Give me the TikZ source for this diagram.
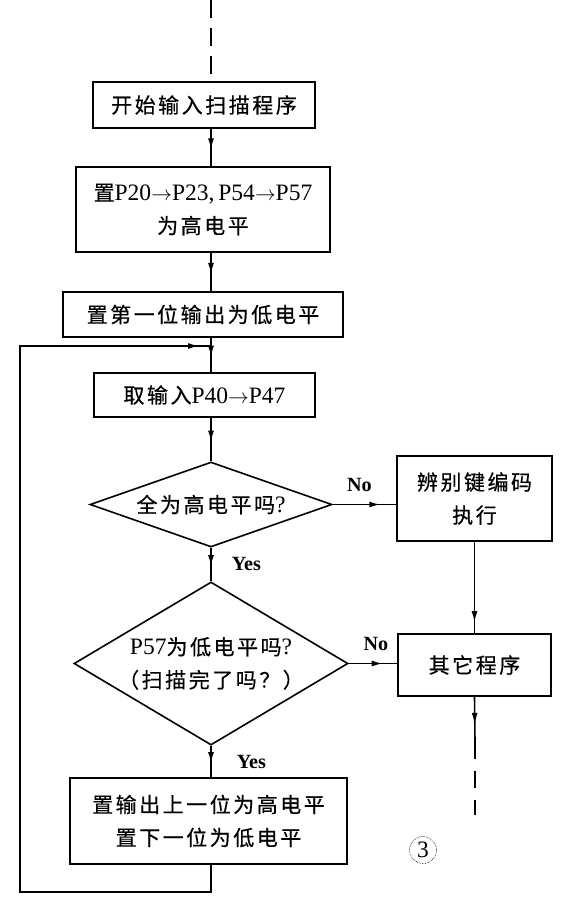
\documentclass[tikz,border=0pt]{standalone}
\usepackage{fontspec}
\setmainfont{Noto Sans CJK SC}[LetterSpace=12, FakeBold=0.5]
\newfontfamily\lat{Liberation Serif}[Scale=1.12]
\usetikzlibrary{shapes.geometric,arrows.meta,decorations.markings}
\newcommand\zhsize{\fontsize{21}{33}\selectfont}
\newcommand\pto{$\rightarrow$}

\begin{document}
\begin{tikzpicture}[x=1pt, y=-1pt,
	line/.style={line width=1.6pt},
	flowat/.style={line, postaction={decorate},
		decoration={markings, mark=at position #1 with {\arrow{Latex[length=11pt,width=6pt]}}}},
	flow/.style={flowat=0.55},
	box/.style={draw, line width=1.6pt, inner sep=0pt, align=center, font=\zhsize},
	test/.style={diamond, draw, line width=1.6pt, inner sep=0pt, align=center, font=\zhsize},
	lbl/.style={inner sep=0pt, font=\lat\bfseries\fontsize{18}{18}\selectfont}]

\useasboundingbox (0,0) rectangle (563,905);

\coordinate (spine) at (211,0);
\coordinate (entry) at (211,0);
\coordinate (join) at (211,346);
\coordinate (lowleft) at (20,892);
\coordinate (split) at (475,742);
\coordinate (exit) at (475,815);

% main column
\node[box, minimum width=222pt, minimum height=46pt] (start) at (204,105) {开始输入扫描程序};
\node[box, minimum width=254pt, minimum height=85pt] (high) at (203,209.5)
	{置{\lat P20\pto P23,\,P54\pto P57}\\为高电平};
\node[box, minimum width=280pt, minimum height=45pt] (first) at (203,314.5) {置第一位输出为低电平};
\node[box, minimum width=221pt, minimum height=44pt] (read) at (204.5,395) {取输入{\lat P40\pto P47}};
\node[test, minimum width=242pt, minimum height=85pt, aspect=2.85] (allhigh) at (211,504.5)
	{全为高电平吗{\lat ?}};
\node[test, minimum width=257pt, minimum height=153pt, aspect=1.68] (done) at (211,663.5)
	{\fontsize{21}{28}\selectfont{\lat P57}为低电平吗{\lat ?}\\（扫描完了吗？）};
\node[box, minimum width=277pt, minimum height=86pt] (next) at (208.5,821)
	{\fontsize{21}{30}\selectfont 置输出上一位为高电平\\置下一位为低电平};

% right column
\node[box, minimum width=155pt, minimum height=85pt] (code) at (474.5,498.5) {辨别键编码\\执行};
\node[box, minimum width=153pt, minimum height=62pt] (other) at (474.5,665) {其它程序};

\node[circle, draw, densely dotted, semithick, inner sep=1pt, minimum size=27pt,
	font=\lat\fontsize{21}{21}\selectfont] (tag) at (423,850) {3};

% connectors
\draw[line, dash pattern=on 18pt off 10pt] (entry) -- (start.north -| spine);
\draw[flow] (start.south -| spine) -- (high.north -| spine);
\draw[flow] (high.south -| spine) -- (first.north -| spine);
\draw[flow] (first.south -| spine) -- (read.north -| spine);
\draw[flow] (read.south -| spine) -- (allhigh.north);

\draw[flowat=0.75] (allhigh.east) -- (allhigh.east -| code.west)
	node[lbl, pos=0.42, above=12pt] {No};
\draw[flow] (allhigh.south) -- (done.north)
	node[lbl, midway, right=20pt] {Yes};
\draw[flowat=0.7] (done.east) -- (done.east -| other.west)
	node[lbl, pos=0.56, above=12pt] {No};
\draw[flow] (done.south) -- (next.north -| spine)
	node[lbl, midway, right=25pt] {Yes};

\draw[flowat=0.88] (code.south) -- (other.north);
\draw[flowat=0.6] (other.south) -- (split);
\draw[line, dash pattern=on 17pt off 12pt] (split) -- (exit);

% loop back
\draw[line, postaction={decorate},
	decoration={markings, mark=at position -12pt with {\arrow{Latex[length=11pt,width=6pt]}}}]
	(next.south -| spine) |- (lowleft) |- (join);

\end{tikzpicture}
\end{document}
